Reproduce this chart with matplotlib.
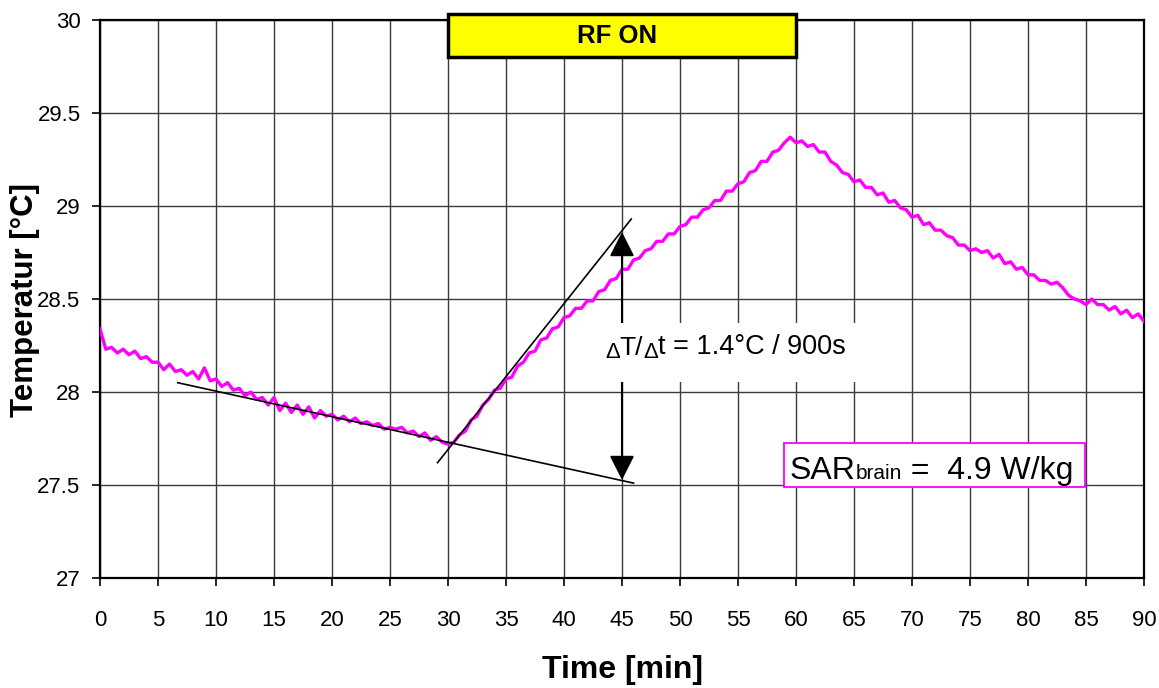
import numpy as np
import matplotlib
matplotlib.use("Agg")
import matplotlib.pyplot as plt
from matplotlib.patches import Rectangle

plt.rcParams['font.family'] = ['Liberation Sans', 'DejaVu Sans']

time_min = np.arange(0, 90.5, 0.5)

# 0 .. 30 min, before RF
temp_before = [
    28.34, 28.23, 28.24, 28.21, 28.23, 28.20, 28.22, 28.18, 28.19, 28.16,
    28.16, 28.12, 28.15, 28.11, 28.12, 28.09, 28.11, 28.07, 28.13, 28.06,
    28.07, 28.03, 28.05, 28.01, 28.02, 27.98, 28.00, 27.96, 27.97, 27.93,
    27.97, 27.90, 27.94, 27.89, 27.93, 27.88, 27.92, 27.86, 27.90, 27.87,
    27.88, 27.85, 27.87, 27.84, 27.86, 27.83, 27.84, 27.82, 27.83, 27.80,
    27.81, 27.80, 27.81, 27.78, 27.79, 27.76, 27.78, 27.74, 27.76, 27.73,
    27.72,
]
# 30.5 .. 60 min, RF on
temp_rf = [
    27.73, 27.77, 27.79, 27.85, 27.87, 27.93, 27.96, 28.01, 28.02, 28.07,
    28.08, 28.14, 28.16, 28.21, 28.22, 28.28, 28.29, 28.34, 28.35, 28.40,
    28.41, 28.45, 28.45, 28.49, 28.49, 28.54, 28.55, 28.60, 28.61, 28.66,
    28.66, 28.71, 28.72, 28.76, 28.77, 28.81, 28.81, 28.85, 28.85, 28.89,
    28.90, 28.94, 28.94, 28.98, 28.99, 29.03, 29.03, 29.08, 29.08, 29.12,
    29.13, 29.18, 29.19, 29.24, 29.24, 29.29, 29.30, 29.34, 29.37, 29.34,
]
# 60.5 .. 90 min, after RF
temp_after = [
    29.35, 29.32, 29.33, 29.29, 29.29, 29.24, 29.22, 29.18, 29.17, 29.13,
    29.14, 29.10, 29.10, 29.06, 29.07, 29.02, 29.03, 28.99, 28.98, 28.94,
    28.95, 28.90, 28.91, 28.87, 28.87, 28.84, 28.83, 28.79, 28.79, 28.76,
    28.77, 28.75, 28.76, 28.72, 28.74, 28.69, 28.70, 28.66, 28.67, 28.63,
    28.63, 28.60, 28.60, 28.58, 28.59, 28.56, 28.52, 28.50, 28.49, 28.47,
    28.50, 28.47, 28.47, 28.44, 28.46, 28.42, 28.44, 28.40, 28.42, 28.38,
]
temperature = np.array(temp_before + temp_rf + temp_after)

# tangent lines
cool_fit_t = [6.7, 46.0]
cool_fit_T = [28.05, 27.51]
heat_fit_t = [29.1, 45.8]
heat_fit_T = [27.62, 28.93]

rf_on = (30, 60)
arrow_t = 45
arrow_T = (27.527, 28.86)

x_ticks = np.arange(0, 91, 5)
y_ticks = np.arange(27, 30.01, 0.5)

fig = plt.figure(figsize=(11.59, 6.88), dpi=100)
ax = fig.add_axes([100/1159, 1-578/688, 1044/1159, 558/688])

ax.set_xlim(0, 90)
ax.set_ylim(27, 30)
ax.set_xticks(x_ticks)
ax.set_yticks(y_ticks)
ax.set_yticklabels(['%g' % v for v in y_ticks])
ax.set_axisbelow(True)
ax.grid(True, color='#3a3a3a', lw=1.0)
for s in ax.spines.values():
    s.set_color('black')
    s.set_linewidth(1.6)
ax.tick_params(axis='both', direction='out', length=6, width=1.2,
               labelsize=16, color='black')
ax.tick_params(axis='x', pad=17)
ax.tick_params(axis='y', pad=8)

ax.plot(time_min, temperature, color='#ff00ff', lw=2.4, zorder=3)
ax.plot(cool_fit_t, cool_fit_T, color='black', lw=1.2, zorder=4)
ax.plot(heat_fit_t, heat_fit_T, color='black', lw=1.2, zorder=4)

# double arrow, the text box cuts a gap into it
ax.annotate('', xy=(arrow_t, arrow_T[1]), xytext=(arrow_t, arrow_T[0]),
            arrowprops=dict(arrowstyle='<|-|>,head_length=0.75,head_width=0.38',
                            mutation_scale=20, color='black', lw=1.5,
                            shrinkA=0, shrinkB=0), zorder=4)
ax.add_patch(Rectangle((43.1, 28.054), 22.4, 0.317, facecolor='white',
                       edgecolor='none', zorder=5))

# "dT/dt" text built from pieces, small deltas sit a bit low
d1 = ax.text(43.53, 28.185, 'Δ', fontsize=16, ha='left', va='baseline', zorder=6)
p1 = ax.annotate('T/', xy=(1, 0), xycoords=d1, xytext=(0, 2.2),
                 textcoords='offset points', fontsize=19, va='bottom', zorder=6)
d2 = ax.annotate('Δ', xy=(1, 0), xycoords=p1, xytext=(0, -2.2),
                 textcoords='offset points', fontsize=16, va='bottom', zorder=6)
ax.annotate('t = 1.4°C / 900s', xy=(1, 0), xycoords=d2, xytext=(0, 2.2),
            textcoords='offset points', fontsize=19.5, va='bottom', zorder=6)

# SAR box
ax.add_patch(Rectangle((58.97, 27.489), 25.93, 0.237, facecolor='white',
                       edgecolor='#ff00ff', lw=1.3, zorder=5))
s1 = ax.text(59.45, 27.532, 'SAR', fontsize=23, ha='left', va='baseline', zorder=6)
s2 = ax.annotate('brain', xy=(1, 0), xycoords=s1, xytext=(0, 1.9),
                 textcoords='offset points', fontsize=15, va='bottom', zorder=6)
ax.annotate(' =  4.9 W/kg', xy=(1, 0), xycoords=s2, xytext=(0, -1.9),
            textcoords='offset points', fontsize=23, va='bottom', zorder=6)

# RF ON box
ax.add_patch(Rectangle((rf_on[0], 29.80), rf_on[1]-rf_on[0], 0.23,
                       facecolor='#ffff00', edgecolor='black', lw=2.5,
                       zorder=6, clip_on=False))
ax.text(44.6, 29.912, 'RF ON', fontsize=18.5, fontweight='bold',
        ha='center', va='center', zorder=7)

fig.text(622/1159, 1-670/688, 'Time [min]', fontsize=23, fontweight='bold',
         ha='center', va='center')
fig.text(25/1159, 1-300/688, 'Temperatur [°C]', fontsize=22.5, fontweight='bold',
         ha='center', va='center', rotation=90)

fig.savefig('out.png', dpi=100)
